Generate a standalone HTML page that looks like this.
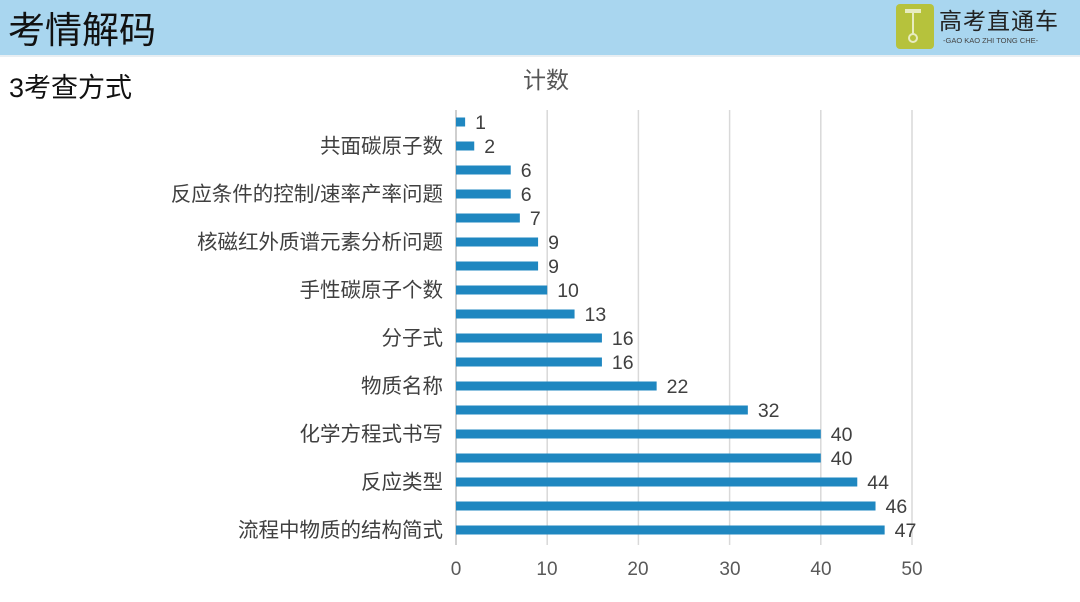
<!DOCTYPE html>
<html><head><meta charset="utf-8"><style>
body{margin:0;width:1080px;height:597px;background:#fff;overflow:hidden;font-family:"Liberation Sans","Noto Sans CJK SC",sans-serif;}
</style></head><body>
<svg width="1080" height="597" xmlns="http://www.w3.org/2000/svg" font-family="Liberation Sans, Noto Sans CJK SC, sans-serif">
<rect x="0" y="0" width="1080" height="55" fill="#a9d6ef"/>
<rect x="0" y="55" width="1080" height="2" fill="#e8eef2"/>
<text x="8" y="43" font-size="37" fill="#111">考情解码</text>
<text x="9" y="97" font-size="27" fill="#111">3考查方式</text>
<rect x="896" y="4" width="38" height="45" rx="4" fill="#b6c23c"/>
<rect x="905" y="9" width="16" height="4" fill="#e8ecc0"/>
<line x1="913" y1="12" x2="913" y2="34" stroke="#e8ecc0" stroke-width="2"/>
<circle cx="913" cy="38" r="4" fill="none" stroke="#e8ecc0" stroke-width="2"/>
<text x="939" y="29" font-size="23" fill="#222" letter-spacing="1">高考直通车</text>
<text x="943" y="43" font-size="7.5" fill="#444">-GAO KAO ZHI TONG CHE-</text>
<text x="546" y="88" font-size="23" fill="#555" text-anchor="middle">计数</text>
<g stroke="#d9d9d9" stroke-width="1.5">
<line x1="547.2" y1="110" x2="547.2" y2="545"/><line x1="638.4" y1="110" x2="638.4" y2="545"/>
<line x1="729.6" y1="110" x2="729.6" y2="545"/><line x1="820.8" y1="110" x2="820.8" y2="545"/><line x1="912" y1="110" x2="912" y2="545"/>
</g>
<line x1="456" y1="110" x2="456" y2="545" stroke="#bfbfbf" stroke-width="1.5"/>
<g font-size="19" fill="#595959" text-anchor="middle">
<text x="456" y="575">0</text><text x="547" y="575">10</text><text x="638" y="575">20</text><text x="730" y="575">30</text><text x="821" y="575">40</text><text x="912" y="575">50</text>
</g>
<g id="bars" fill="#1f87c0"></g>
<g id="vals" font-size="19.5" fill="#404040"></g>
<g font-size="20.5" fill="#404040" text-anchor="end">
<text x="443" y="153">共面碳原子数</text>
<text x="443" y="201">反应条件的控制/速率产率问题</text>
<text x="443" y="249">核磁红外质谱元素分析问题</text>
<text x="443" y="297">手性碳原子个数</text>
<text x="443" y="345">分子式</text>
<text x="443" y="393">物质名称</text>
<text x="443" y="441">化学方程式书写</text>
<text x="443" y="489">反应类型</text>
<text x="443" y="537">流程中物质的结构简式</text>
</g>
<script>
var v=[1,2,6,6,7,9,9,10,13,16,16,22,32,40,40,44,46,47],b=document.getElementById('bars'),t=document.getElementById('vals'),ns='http://www.w3.org/2000/svg';
v.forEach(function(d,i){var y=122+24*i,w=d*9.12;var r=document.createElementNS(ns,'rect');r.setAttribute('x',456);r.setAttribute('y',y-4.5);r.setAttribute('width',w);r.setAttribute('height',9);b.appendChild(r);
var s=document.createElementNS(ns,'text');s.setAttribute('x',456+w+10);s.setAttribute('y',y+7);s.textContent=d;t.appendChild(s);});
</script>
</svg>
</body></html>
